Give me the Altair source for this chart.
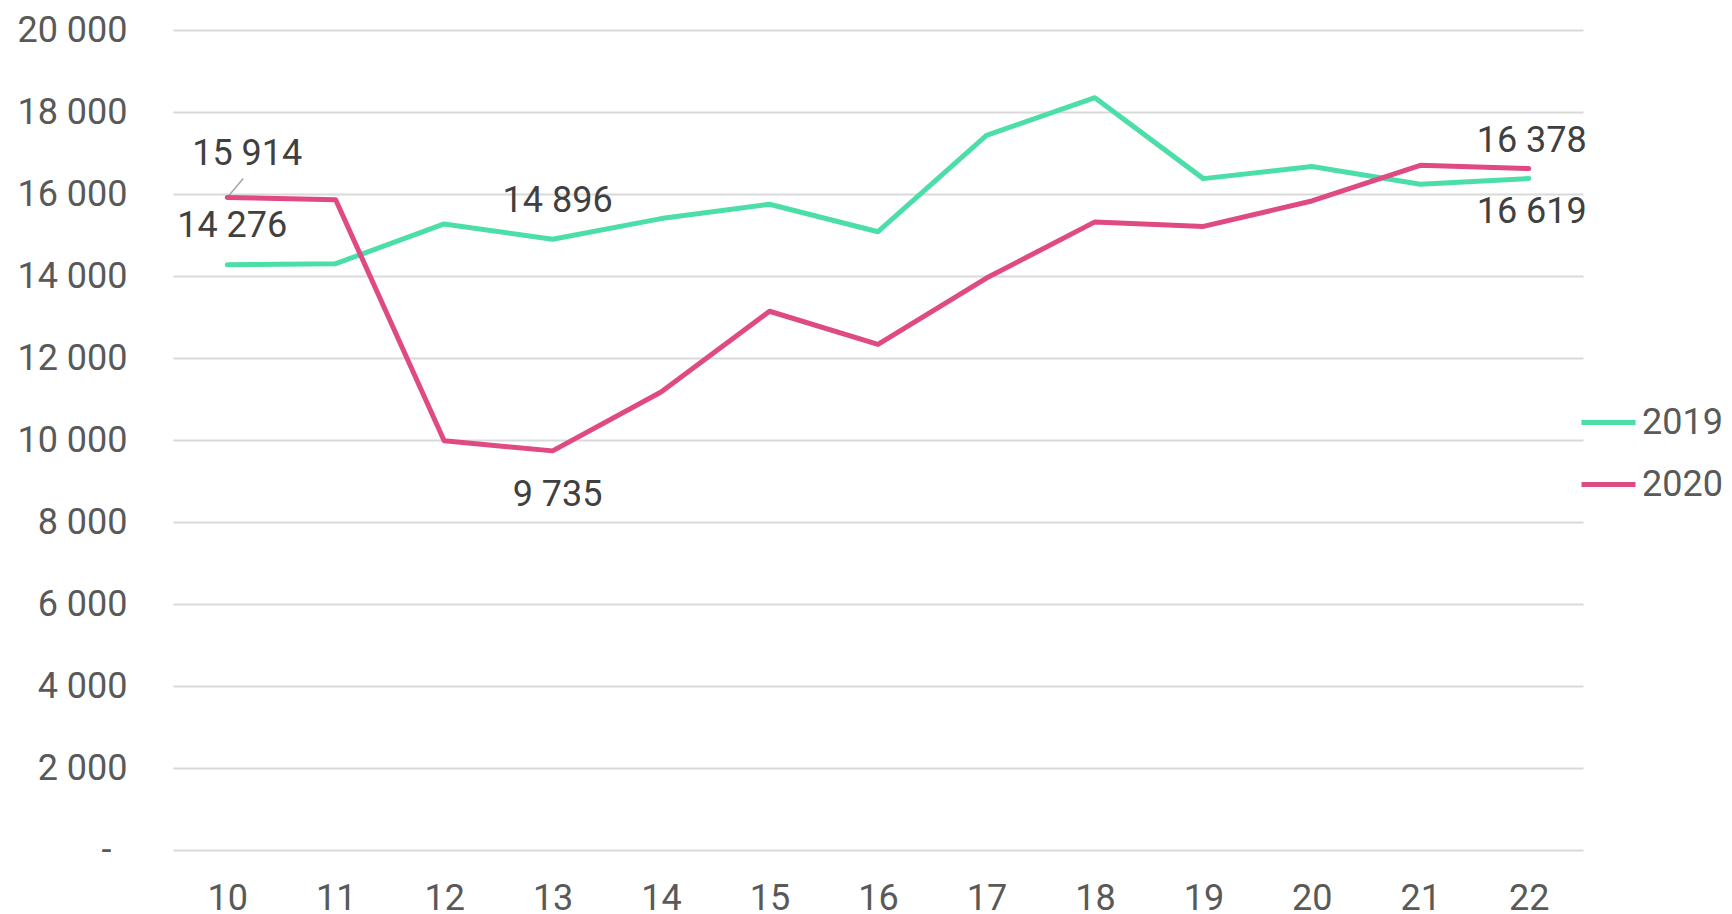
import altair as alt
import pandas as pd

weeks = [10, 11, 12, 13, 14, 15, 16, 17, 18, 19, 20, 21, 22]
v2019 = [14276, 14300, 15270, 14896, 15400, 15750, 15080, 17430, 18350, 16375, 16670, 16240, 16378]
v2020 = [15914, 15860, 9980, 9735, 11170, 13140, 12330, 13950, 15320, 15210, 15830, 16700, 16619]
series = ["2019", "2020"]
colors = ["#4BDEA8", "#E04A82"]

rows = []
for w, a, b in zip(weeks, v2019, v2020):
    rows.append({"week": w, "series": "2019", "value": a})
    rows.append({"week": w, "series": "2020", "value": b})
df = pd.DataFrame(rows)

FONT = "Roboto"
W, H = 1410, 820

x_enc = alt.X("week:O", scale=alt.Scale(type="point", padding=0.5),
              axis=alt.Axis(title=None, labelAngle=0, labelAlign="center", domain=False,
                            ticks=False, tickSize=0, labelPadding=48, labelBaseline="middle",
                            labelFontSize=36, labelFont=FONT,
                            labelColor="#595959", grid=False))
y_enc = alt.Y("value:Q", scale=alt.Scale(domain=[0, 20000], nice=False),
              axis=alt.Axis(title=None, values=list(range(0, 20001, 2000)), domain=False,
                            ticks=False, tickSize=0,
                            labelPadding={"condition": {"test": "datum.value == 0", "value": 62}, "value": 46},
                            labelFontSize=36,
                            labelFont=FONT, labelColor="#595959", gridColor="#d9d9d9",
                            gridWidth=2,
                            labelExpr="datum.value == 0 ? '-' : replace(format(datum.value, ','), ',', ' ')"))

lines = alt.Chart(df).mark_line(strokeWidth=5, strokeCap="round", strokeJoin="round").encode(
    x=x_enc, y=y_enc,
    color=alt.Color("series:N", scale=alt.Scale(domain=series, range=colors),
                    legend=alt.Legend(title=None, orient="none", legendX=W - 4, legendY=363,
                                      symbolType="stroke", symbolSize=2916, symbolStrokeWidth=5,
                                      labelFontSize=36, labelFont=FONT, labelColor="#595959",
                                      labelOffset=4, rowPadding=14))
)

# (week, series, dx, dy)
label_specs = [
    (10, "2020", 20, -44),
    (10, "2019", 5, -39),
    (13, "2019", 5, -38),
    (13, "2020", 5, 44),
    (22, "2019", 3, -38),
    (22, "2020", 3, 43),
]

layers = []
leader = alt.Chart(df).transform_filter(
    (alt.datum.week == 10) & (alt.datum.series == "2020")
).mark_rule(color="#a6a6a6", strokeWidth=1.5, x2Offset=16, y2Offset=-19).encode(
    x="week:O", x2="week:O", y="value:Q", y2="value:Q")
layers.append(leader)
layers.append(lines)
for wk, s, dx, dy in label_specs:
    t = alt.Chart(df).transform_filter(
        (alt.datum.week == wk) & (alt.datum.series == s)
    ).transform_calculate(
        lab="replace(format(datum.value, ','), ',', ' ')"
    ).mark_text(fontSize=36, font=FONT, color="#404040", dx=dx, dy=dy,
                baseline="middle", align="center").encode(
        x="week:O", y="value:Q", text="lab:N")
    layers.append(t)

chart = alt.layer(*layers).properties(
    width=W, height=H,
    autosize=alt.AutoSizeParams(type="none"),
    padding={"left": 165, "top": 22, "right": 141, "bottom": 64},
).configure_view(stroke=None)

chart.save("out.html", embed_options={"renderer": "svg", "actions": False})
